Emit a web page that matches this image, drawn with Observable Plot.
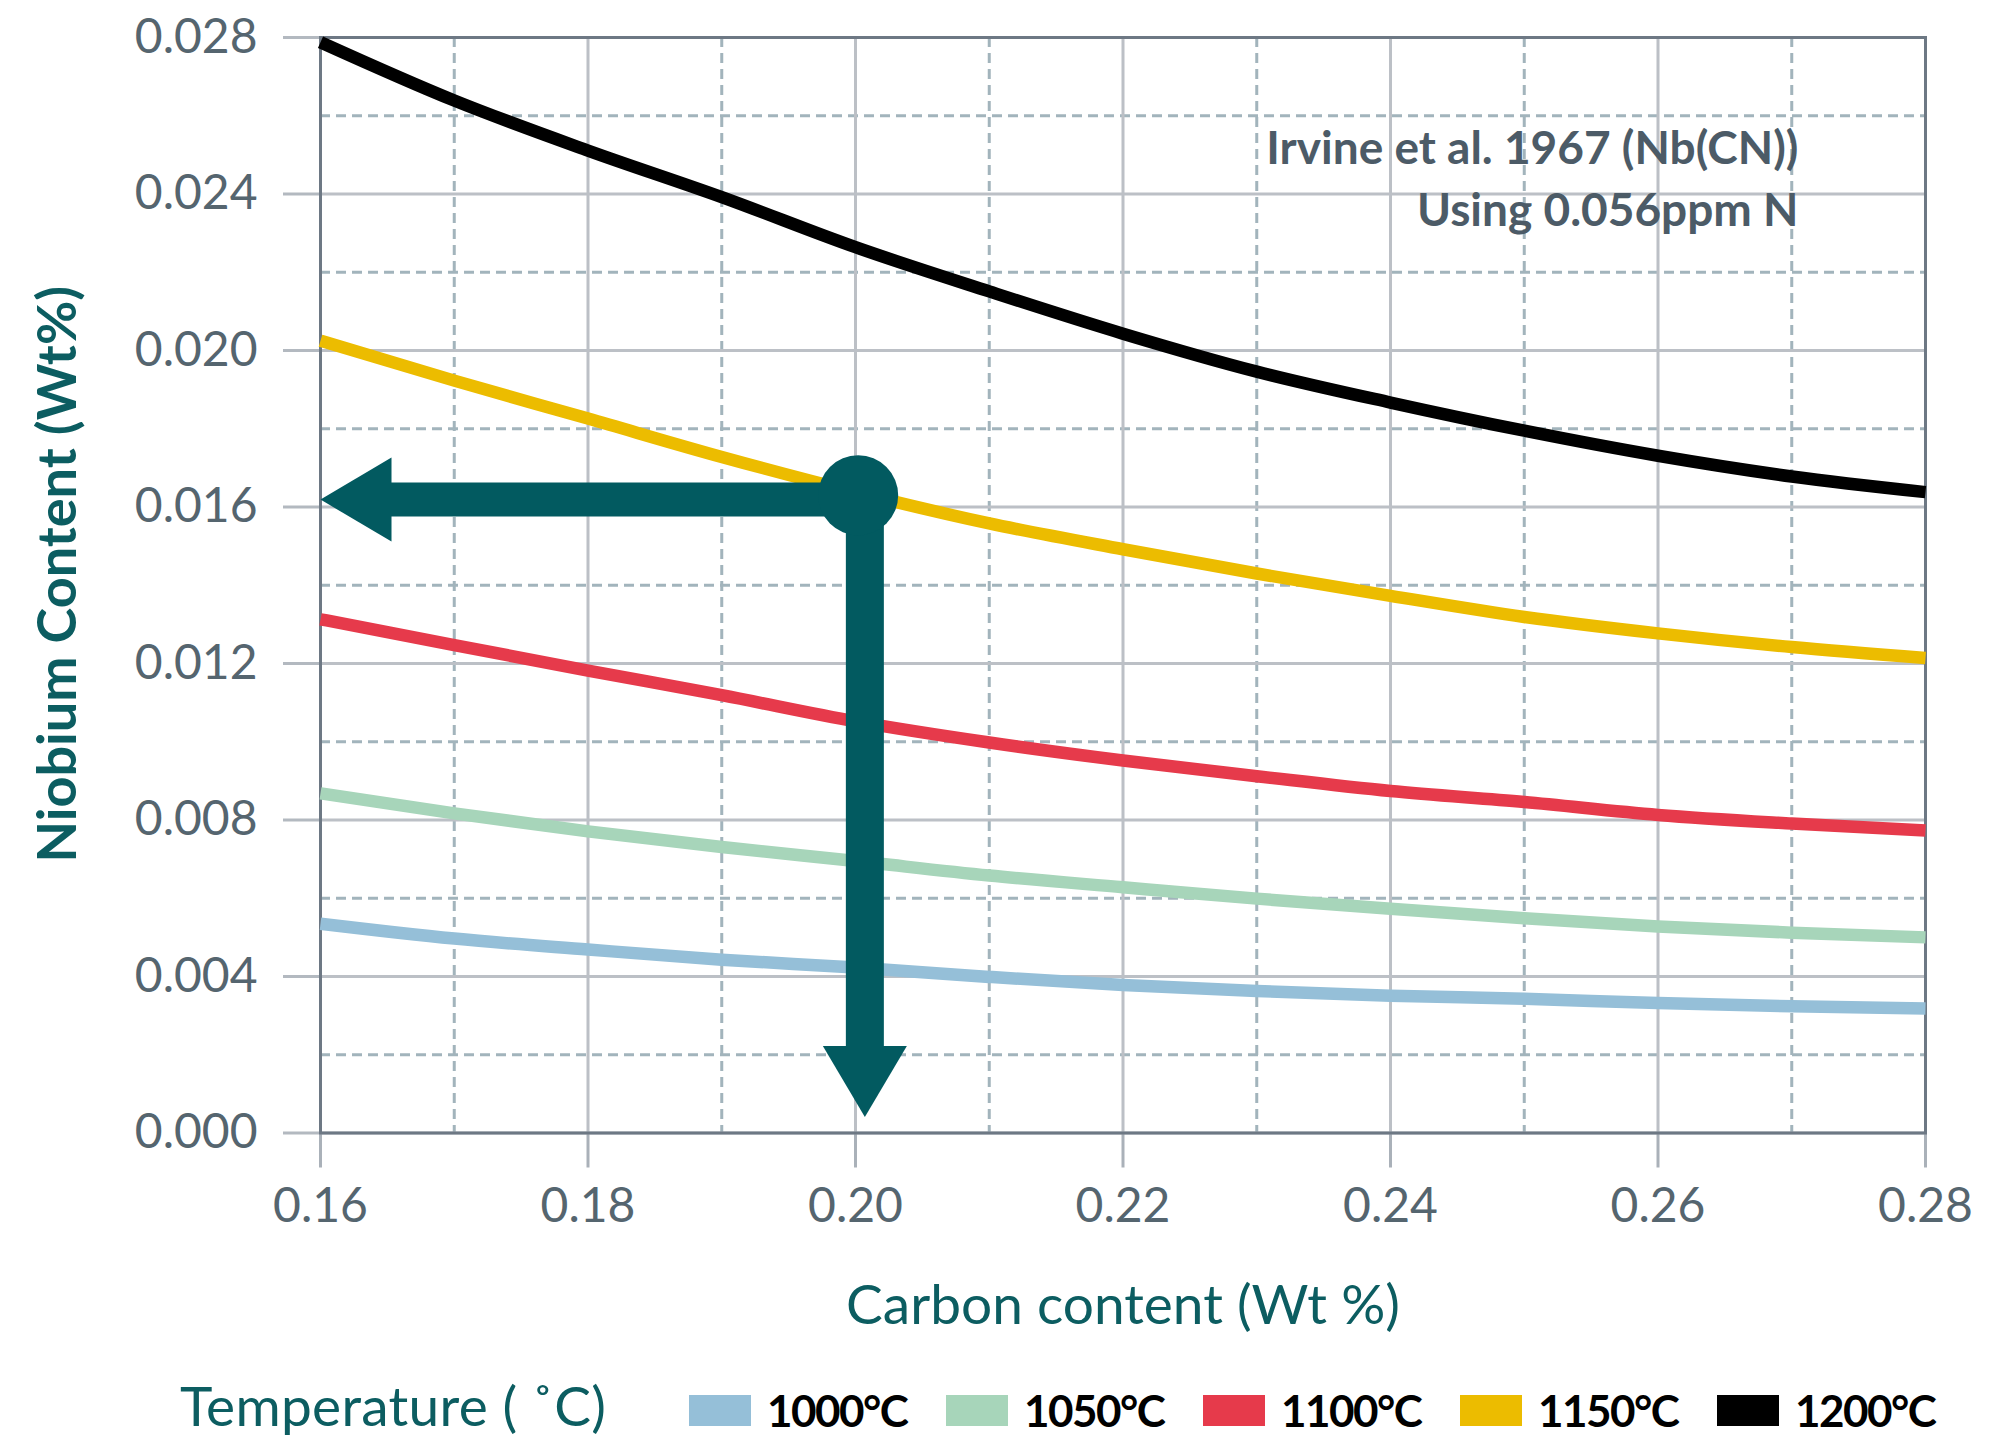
<!DOCTYPE html>
<html>
<head>
<meta charset="utf-8">
<script src="https://cdn.jsdelivr.net/npm/d3@7"></script>
<script src="https://cdn.jsdelivr.net/npm/@observablehq/plot@0.6"></script>
<style>
  html, body { margin: 0; padding: 0; background: #fff; }
  #wrap { position: relative; width: 2011px; height: 1440px; overflow: hidden; font-family: Lato, "Open Sans", sans-serif; }
  #legend { position: absolute; left: 0; top: 1381px; width: 2011px; height: 58px; }
  #legend .title { position: absolute; left: 180px; top: -5px; font-size: 55px; letter-spacing: 0.3px; color: #0c5d61; white-space: nowrap; line-height: 58px; }
  #legend .items { position: absolute; left: 689px; top: 0; display: flex; align-items: center; height: 58px; }
  #legend .item { width: 257px; display: flex; align-items: center; }
  #legend .sw { width: 62px; height: 31px; margin-right: 16px; flex: none; }
  #legend .lab { font-size: 44px; font-weight: bold; color: #000; letter-spacing: -1.5px; white-space: nowrap; line-height: 58px; }
</style>
</head>
<body>
<div id="wrap">
  <div id="chart"></div>
  <div id="legend"></div>
</div>
<script>
// ---- data ----
const carbon = [0.16, 0.17, 0.18, 0.19, 0.20, 0.21, 0.22, 0.23, 0.24, 0.25, 0.26, 0.27, 0.28];
const temps = ["1000°C", "1050°C", "1100°C", "1150°C", "1200°C"];
const nb1000 = [0.00535, 0.00497, 0.00469, 0.00443, 0.00423, 0.00399, 0.00378, 0.00363, 0.00351, 0.00343, 0.00332, 0.00324, 0.00318];
const nb1050 = [0.00868, 0.00817, 0.00771, 0.00731, 0.00695, 0.00658, 0.00628, 0.00599, 0.00573, 0.00549, 0.00528, 0.00512, 0.00500];
const nb1100 = [0.01313, 0.01247, 0.01182, 0.01119, 0.01052, 0.00998, 0.00952, 0.00912, 0.00874, 0.00846, 0.00813, 0.00791, 0.00773];
const nb1150 = [0.02025, 0.01923, 0.01826, 0.01728, 0.01638, 0.01558, 0.01492, 0.01430, 0.01373, 0.01319, 0.01277, 0.01242, 0.01214];
const nb1200 = [0.02788, 0.02639, 0.02511, 0.02392, 0.02264, 0.02151, 0.02043, 0.01946, 0.01867, 0.01795, 0.01731, 0.01678, 0.01638];
const colors = ["#95bfd8", "#a7d5ba", "#e63a4b", "#ecbc00", "#000000"];

const xTicks = [0.16, 0.18, 0.20, 0.22, 0.24, 0.26, 0.28];
const xMinor = [0.17, 0.19, 0.21, 0.23, 0.25, 0.27];
const yTicks = [0.000, 0.004, 0.008, 0.012, 0.016, 0.020, 0.024, 0.028];
const yMinor = [0.002, 0.006, 0.010, 0.014, 0.018, 0.022, 0.026];

// reading example: point on the 1150°C curve and the arrows from it
const marker = [{c: 0.2002, nb: 0.0163}];
const arrowLeft = [{c1: 0.16, c2: 0.2002, nb: 0.01619}];
const arrowDown = [{c: 0.2007, nb1: 0.0163, nb2: 0.00041}];

const xLabel = "Carbon content (Wt %)";
const yLabel = "Niobium Content (Wt%)";
const note = "Irvine et al. 1967 (Nb(CN))\nUsing 0.056ppm N";
const legendTitle = "Temperature ( \u02DAC)";

// ---- build table ----
const series = [nb1000, nb1050, nb1100, nb1150, nb1200];
const rows = [];
series.forEach((vals, i) => vals.forEach((v, j) => rows.push({temp: temps[i], c: carbon[j], nb: v})));

const teal = "#025a60";
const arrowHead = {
  draw(ctx) {
    ctx.moveTo(0, 0);
    ctx.lineTo(-42, 71);
    ctx.lineTo(42, 71);
    ctx.closePath();
  }
};

const H = 1345;
const chart = Plot.plot({
  width: 2011,
  height: H,
  marginLeft: 320,
  marginRight: 86,
  marginTop: 37,
  marginBottom: H - 1132.5,
  style: {fontFamily: "Lato, 'Open Sans', sans-serif", background: "white", overflow: "visible"},
  x: {domain: [0.16, 0.28]},
  y: {domain: [0, 0.028]},
  color: {domain: temps, range: colors},
  marks: [
    Plot.gridX(xMinor, {stroke: "#a2b4bc", strokeOpacity: 1, strokeWidth: 3, strokeDasharray: "10,6"}),
    Plot.gridY(yMinor, {stroke: "#a2b4bc", strokeOpacity: 1, strokeWidth: 3, strokeDasharray: "10,6"}),
    Plot.gridX(xTicks, {stroke: "#bcc0c6", strokeOpacity: 1, strokeWidth: 3}),
    Plot.gridY(yTicks, {stroke: "#bcc0c6", strokeOpacity: 1, strokeWidth: 3}),
    Plot.axisX({ticks: xTicks, tickFormat: d3.format(".2f"), tickSize: 35, tickPadding: 20,
      fontSize: 48, fill: "#55656f", stroke: "#aab1b9", strokeWidth: 3, label: null}),
    Plot.axisY({ticks: yTicks, tickFormat: d3.format(".3f"), tickSize: 37, tickPadding: 26,
      fontSize: 48, fill: "#55656f", stroke: "#b3b9c0", strokeWidth: 3, label: null}),
    Plot.frame({stroke: "#6d7884", strokeWidth: 3}),
    Plot.line(rows, {x: "c", y: "nb", z: "temp", stroke: "temp", strokeWidth: 12.5,
      curve: "monotone-x", strokeLinecap: "butt"}),
    Plot.ruleY(arrowLeft, {x1: "c1", x2: "c2", y: "nb", stroke: teal, strokeWidth: 34, insetLeft: 60}),
    Plot.dot(arrowLeft, {x: "c1", y: "nb", symbol: arrowHead, rotate: -90, fill: teal, stroke: "none"}),
    Plot.ruleX(arrowDown, {x: "c", y1: "nb1", y2: "nb2", stroke: teal, strokeWidth: 38, insetBottom: 60}),
    Plot.dot(arrowDown, {x: "c", y: "nb2", symbol: arrowHead, rotate: 180, fill: teal, stroke: "none"}),
    Plot.dot(marker, {x: "c", y: "nb", r: 40, fill: teal, stroke: "none"}),
    Plot.text([note], {frameAnchor: "top-right", dx: -127, dy: 82, textAnchor: "end", lineAnchor: "top",
      lineHeight: 1.36, fontSize: 46, fontWeight: "bold", fill: "#4c5b67"}),
    Plot.text([yLabel], {frameAnchor: "left", dx: -262, dy: -11, rotate: -90, fontSize: 54,
      fontWeight: "bold", fill: "#0c5d61", textAnchor: "middle", lineAnchor: "middle"}),
    Plot.text([xLabel], {frameAnchor: "bottom", dy: 173, fontSize: 55, fill: "#0c5d61",
      textAnchor: "middle", lineAnchor: "middle"})
  ]
});
document.getElementById("chart").appendChild(chart);

// ---- legend ----
const legend = document.getElementById("legend");
const t = document.createElement("div");
t.className = "title";
t.textContent = legendTitle;
legend.appendChild(t);
const items = document.createElement("div");
items.className = "items";
temps.forEach((name, i) => {
  const it = document.createElement("div");
  it.className = "item";
  const sw = document.createElement("div");
  sw.className = "sw";
  sw.style.background = colors[i];
  const lab = document.createElement("div");
  lab.className = "lab";
  lab.textContent = name;
  it.appendChild(sw);
  it.appendChild(lab);
  items.appendChild(it);
});
legend.appendChild(items);
</script>
</body>
</html>
